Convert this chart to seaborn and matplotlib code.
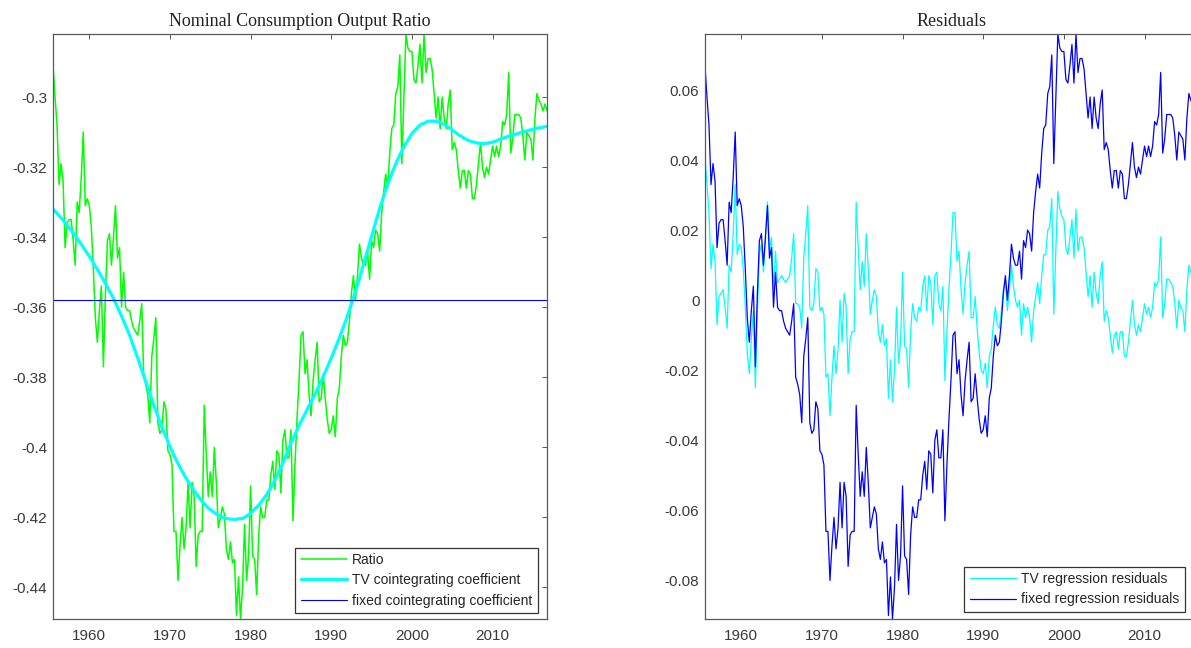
import numpy as np
import matplotlib
matplotlib.use("Agg")
import matplotlib.pyplot as plt
from matplotlib.ticker import FuncFormatter
import seaborn as sns

# Quarterly sample, 1955Q3 .. 2016Q4 (x in decimal years)
quarters = np.arange(1955.5, 2016.76, 0.25)

# Nominal consumption / output ratio (log), one row per year
ratio = [
    -0.291, -0.300,
    -0.308, -0.325, -0.319, -0.324,
    -0.343, -0.336, -0.335, -0.335,
    -0.341, -0.348, -0.330, -0.333,
    -0.323, -0.310, -0.331, -0.329,
    -0.331, -0.337, -0.349, -0.363,  # 1960
    -0.370, -0.361, -0.354, -0.377,
    -0.356, -0.341, -0.339, -0.348,
    -0.340, -0.331, -0.346, -0.343,
    -0.360, -0.350, -0.360, -0.361,
    -0.361, -0.364, -0.366, -0.367,  # 1965
    -0.368, -0.364, -0.359, -0.380,
    -0.382, -0.385, -0.393, -0.374,
    -0.369, -0.363, -0.393, -0.396,
    -0.395, -0.387, -0.389, -0.401,
    -0.402, -0.405, -0.424, -0.424,  # 1970
    -0.438, -0.428, -0.420, -0.429,
    -0.423, -0.410, -0.423, -0.410,
    -0.414, -0.434, -0.425, -0.424,
    -0.424, -0.388, -0.402, -0.414,
    -0.407, -0.414, -0.400, -0.410,  # 1975
    -0.423, -0.420, -0.417, -0.419,
    -0.429, -0.432, -0.427, -0.433,
    -0.432, -0.448, -0.437, -0.449,
    -0.440, -0.422, -0.438, -0.431,
    -0.411, -0.431, -0.432, -0.442,  # 1980
    -0.425, -0.417, -0.420, -0.420,
    -0.415, -0.415, -0.408, -0.404,
    -0.412, -0.401, -0.402, -0.413,
    -0.398, -0.395, -0.403, -0.403,
    -0.395, -0.421, -0.405, -0.392,  # 1985
    -0.381, -0.368, -0.367, -0.379,
    -0.375, -0.385, -0.391, -0.381,
    -0.375, -0.370, -0.387, -0.386,
    -0.379, -0.386, -0.392, -0.396,
    -0.395, -0.391, -0.397, -0.386,  # 1990
    -0.383, -0.374, -0.368, -0.371,
    -0.370, -0.364, -0.356, -0.351,
    -0.358, -0.351, -0.342, -0.346,
    -0.348, -0.348, -0.344, -0.352,
    -0.341, -0.343, -0.338, -0.339,  # 1995
    -0.344, -0.333, -0.327, -0.322,
    -0.326, -0.316, -0.309, -0.308,
    -0.299, -0.297, -0.288, -0.319,
    -0.300, -0.282, -0.286, -0.287,
    -0.287, -0.295, -0.296, -0.291,  # 2000
    -0.285, -0.296, -0.282, -0.293,
    -0.289, -0.289, -0.292, -0.299,
    -0.306, -0.300, -0.309, -0.300,
    -0.306, -0.309, -0.302, -0.298,
    -0.315, -0.313, -0.315, -0.321,  # 2005
    -0.326, -0.321, -0.321, -0.326,
    -0.321, -0.322, -0.329, -0.329,
    -0.325, -0.319, -0.313, -0.320,
    -0.323, -0.320, -0.322, -0.318,
    -0.314, -0.317, -0.314, -0.317,  # 2010
    -0.314, -0.307, -0.308, -0.305,
    -0.293, -0.316, -0.312, -0.305,
    -0.305, -0.305, -0.306, -0.311,
    -0.318, -0.310, -0.311, -0.312,
    -0.318, -0.306, -0.299, -0.301,  # 2015
    -0.302, -0.304, -0.302, -0.304,
]

# time-varying cointegrating coefficient
tv_coef = [
    -0.3320, -0.3326,
    -0.3332, -0.3339, -0.3345, -0.3352,
    -0.3358, -0.3366, -0.3373, -0.3381,
    -0.3388, -0.3396, -0.3404, -0.3412,
    -0.3420, -0.3429, -0.3438, -0.3446,
    -0.3455, -0.3464, -0.3474, -0.3483,  # 1960
    -0.3492, -0.3502, -0.3512, -0.3522,
    -0.3532, -0.3543, -0.3554, -0.3564,
    -0.3575, -0.3588, -0.3600, -0.3613,
    -0.3625, -0.3639, -0.3653, -0.3666,
    -0.3680, -0.3696, -0.3713, -0.3729,  # 1965
    -0.3745, -0.3762, -0.3779, -0.3795,
    -0.3812, -0.3829, -0.3846, -0.3863,
    -0.3880, -0.3896, -0.3911, -0.3927,
    -0.3942, -0.3956, -0.3970, -0.3984,
    -0.3998, -0.4010, -0.4023, -0.4035,  # 1970
    -0.4047, -0.4057, -0.4068, -0.4078,
    -0.4088, -0.4097, -0.4106, -0.4115,
    -0.4124, -0.4132, -0.4140, -0.4147,
    -0.4155, -0.4161, -0.4167, -0.4174,
    -0.4178, -0.4182, -0.4186, -0.4190,  # 1975
    -0.4194, -0.4196, -0.4199, -0.4201,
    -0.4203, -0.4204, -0.4205, -0.4205,
    -0.4206, -0.4205, -0.4204, -0.4204,
    -0.4203, -0.4200, -0.4196, -0.4193,
    -0.4187, -0.4182, -0.4176, -0.4171,  # 1980
    -0.4165, -0.4158, -0.4150, -0.4143,
    -0.4135, -0.4125, -0.4115, -0.4105,
    -0.4095, -0.4083, -0.4070, -0.4058,
    -0.4045, -0.4031, -0.4017, -0.4002,
    -0.3988, -0.3976, -0.3963, -0.3951,  # 1985
    -0.3938, -0.3927, -0.3915, -0.3904,
    -0.3892, -0.3881, -0.3870, -0.3859,
    -0.3848, -0.3836, -0.3823, -0.3811,
    -0.3798, -0.3785, -0.3772, -0.3758,
    -0.3745, -0.3731, -0.3717, -0.3702,  # 1990
    -0.3688, -0.3672, -0.3657, -0.3641,
    -0.3625, -0.3608, -0.3590, -0.3573,
    -0.3555, -0.3536, -0.3516, -0.3497,
    -0.3478, -0.3458, -0.3438, -0.3418,
    -0.3398, -0.3378, -0.3358, -0.3338,  # 1995
    -0.3318, -0.3301, -0.3283, -0.3266,
    -0.3248, -0.3234, -0.3219, -0.3205,
    -0.3190, -0.3178, -0.3166, -0.3154,
    -0.3142, -0.3133, -0.3123, -0.3114,
    -0.3104, -0.3098, -0.3092, -0.3086,  # 2000
    -0.3080, -0.3077, -0.3075, -0.3072,
    -0.3069, -0.3069, -0.3069, -0.3069,
    -0.3069, -0.3071, -0.3074, -0.3076,
    -0.3078, -0.3082, -0.3086, -0.3090,
    -0.3094, -0.3098, -0.3103, -0.3107,  # 2005
    -0.3111, -0.3114, -0.3118, -0.3121,
    -0.3124, -0.3126, -0.3128, -0.3129,
    -0.3131, -0.3132, -0.3132, -0.3133,
    -0.3133, -0.3132, -0.3131, -0.3130,
    -0.3129, -0.3127, -0.3125, -0.3122,  # 2010
    -0.3120, -0.3118, -0.3116, -0.3114,
    -0.3112, -0.3110, -0.3109, -0.3107,
    -0.3105, -0.3103, -0.3102, -0.3100,
    -0.3098, -0.3097, -0.3095, -0.3094,
    -0.3092, -0.3091, -0.3089, -0.3088,  # 2015
    -0.3087, -0.3086, -0.3085, -0.3084,
]

fixed_coef = -0.358

# residuals of the two regressions
tv_resid = [
    0.041, 0.033,
    0.025, 0.009, 0.016, 0.011,
    -0.007, 0.001, 0.002, 0.003,
    -0.002, -0.008, 0.010, 0.008,
    0.019, 0.033, 0.013, 0.016,
    0.015, 0.009, -0.002, -0.015,  # 1960
    -0.021, -0.011, -0.003, -0.025,
    -0.003, 0.013, 0.016, 0.008,
    0.018, 0.028, 0.014, 0.018,
    0.003, 0.014, 0.005, 0.006,
    0.007, 0.006, 0.005, 0.006,  # 1965
    0.007, 0.012, 0.019, -0.001,
    -0.001, -0.002, -0.008, 0.012,
    0.019, 0.027, -0.002, -0.003,
    -0.001, 0.009, 0.008, -0.003,
    -0.002, -0.004, -0.022, -0.021,  # 1970
    -0.033, -0.022, -0.013, -0.021,
    -0.014, 0.000, -0.012, 0.002,
    -0.002, -0.021, -0.011, -0.009,
    -0.009, 0.028, 0.015, 0.003,
    0.011, 0.004, 0.019, 0.009,  # 1975
    -0.004, 0.000, 0.003, 0.001,
    -0.009, -0.012, -0.007, -0.013,
    -0.011, -0.028, -0.017, -0.029,
    -0.020, -0.002, -0.018, -0.012,
    0.008, -0.013, -0.014, -0.025,  # 1980
    -0.009, -0.001, -0.005, -0.006,
    -0.002, -0.003, 0.004, 0.007,
    -0.003, 0.007, 0.005, -0.007,
    0.007, 0.008, -0.001, -0.003,
    0.004, -0.023, -0.009, 0.003,  # 1985
    0.013, 0.025, 0.025, 0.011,
    0.014, 0.003, -0.004, 0.005,
    0.010, 0.014, -0.005, -0.005,
    0.001, -0.008, -0.015, -0.020,
    -0.021, -0.018, -0.025, -0.016,  # 1990
    -0.014, -0.007, -0.002, -0.007,
    -0.008, -0.003, 0.003, 0.006,
    -0.003, 0.003, 0.010, 0.004,
    0.000, -0.002, 0.000, -0.010,
    -0.001, -0.005, -0.002, -0.005,  # 1995
    -0.012, -0.003, 0.001, 0.005,
    -0.001, 0.007, 0.013, 0.013,
    0.020, 0.021, 0.029, -0.004,
    0.014, 0.031, 0.026, 0.024,
    0.023, 0.015, 0.013, 0.018,  # 2000
    0.023, 0.012, 0.026, 0.014,
    0.018, 0.018, 0.015, 0.008,
    0.001, 0.007, -0.002, 0.008,
    0.002, -0.001, 0.007, 0.011,
    -0.006, -0.003, -0.005, -0.010,  # 2005
    -0.015, -0.010, -0.009, -0.014,
    -0.009, -0.009, -0.016, -0.016,
    -0.012, -0.006, 0.000, -0.007,
    -0.010, -0.007, -0.009, -0.005,
    -0.001, -0.004, -0.002, -0.005,  # 2010
    -0.002, 0.005, 0.004, 0.006,
    0.018, -0.005, -0.001, 0.006,
    0.006, 0.005, 0.004, -0.001,
    -0.008, 0.000, -0.002, -0.003,
    -0.009, 0.003, 0.010, 0.008,  # 2015
    0.007, 0.005, 0.007, 0.004,
]

fixed_resid = [
    0.067, 0.058,
    0.050, 0.033, 0.039, 0.034,
    0.015, 0.022, 0.023, 0.023,
    0.017, 0.010, 0.028, 0.025,
    0.035, 0.048, 0.027, 0.029,
    0.027, 0.021, 0.009, -0.005,  # 1960
    -0.012, -0.003, 0.004, -0.019,
    0.002, 0.017, 0.019, 0.010,
    0.018, 0.027, 0.012, 0.015,
    -0.002, 0.008, -0.002, -0.003,
    -0.003, -0.006, -0.008, -0.009,  # 1965
    -0.010, -0.006, -0.001, -0.022,
    -0.024, -0.027, -0.035, -0.016,
    -0.011, -0.005, -0.035, -0.038,
    -0.037, -0.029, -0.031, -0.043,
    -0.044, -0.047, -0.066, -0.066,  # 1970
    -0.080, -0.070, -0.062, -0.071,
    -0.065, -0.052, -0.065, -0.052,
    -0.056, -0.076, -0.067, -0.066,
    -0.066, -0.030, -0.044, -0.056,
    -0.049, -0.056, -0.042, -0.052,  # 1975
    -0.065, -0.062, -0.059, -0.061,
    -0.071, -0.074, -0.069, -0.075,
    -0.074, -0.090, -0.079, -0.091,
    -0.082, -0.064, -0.080, -0.073,
    -0.053, -0.073, -0.074, -0.084,  # 1980
    -0.067, -0.059, -0.062, -0.062,
    -0.057, -0.057, -0.050, -0.046,
    -0.054, -0.043, -0.044, -0.055,
    -0.040, -0.037, -0.045, -0.045,
    -0.037, -0.063, -0.047, -0.034,  # 1985
    -0.023, -0.010, -0.009, -0.021,
    -0.017, -0.027, -0.033, -0.023,
    -0.017, -0.012, -0.029, -0.028,
    -0.021, -0.028, -0.034, -0.038,
    -0.037, -0.033, -0.039, -0.028,  # 1990
    -0.025, -0.016, -0.010, -0.013,
    -0.012, -0.006, 0.002, 0.007,
    0.000, 0.007, 0.016, 0.012,
    0.010, 0.010, 0.014, 0.006,
    0.017, 0.015, 0.020, 0.019,  # 1995
    0.014, 0.025, 0.031, 0.036,
    0.032, 0.042, 0.049, 0.050,
    0.059, 0.061, 0.070, 0.039,
    0.058, 0.076, 0.072, 0.071,
    0.071, 0.063, 0.062, 0.067,  # 2000
    0.073, 0.062, 0.076, 0.065,
    0.069, 0.069, 0.066, 0.059,
    0.052, 0.058, 0.049, 0.058,
    0.052, 0.049, 0.056, 0.060,
    0.043, 0.045, 0.043, 0.037,  # 2005
    0.032, 0.037, 0.037, 0.032,
    0.037, 0.036, 0.029, 0.029,
    0.033, 0.039, 0.045, 0.038,
    0.035, 0.038, 0.036, 0.040,
    0.044, 0.041, 0.044, 0.041,  # 2010
    0.044, 0.051, 0.050, 0.053,
    0.065, 0.042, 0.046, 0.053,
    0.053, 0.053, 0.052, 0.047,
    0.040, 0.048, 0.047, 0.046,
    0.040, 0.052, 0.059, 0.057,  # 2015
    0.056, 0.054, 0.056, 0.054,
]

year_ticks = [1960, 1970, 1980, 1990, 2000, 2010]
left_yticks = [-0.44, -0.42, -0.40, -0.38, -0.36, -0.34, -0.32, -0.30]
right_yticks = [-0.08, -0.06, -0.04, -0.02, 0.0, 0.02, 0.04, 0.06]

sns.set_style("white")
plt.rcParams["font.family"] = ["Liberation Sans", "DejaVu Sans"]

GREEN, CYAN, BLUE = "#00ff00", "#00ffff", "#0000ff"
SPINE = "#5a5a5a"


def matlab_fmt(v, pos):
    v = round(v, 4)
    if v == 0:
        return "0"
    return f"{v:g}"


def style_axes(ax, yticks):
    ax.set_xlim(quarters[0], quarters[-1])
    ax.set_xticks(year_ticks)
    ax.set_yticks(yticks)
    ax.yaxis.set_major_formatter(FuncFormatter(matlab_fmt))
    ax.tick_params(direction="in", length=3.5, width=0.7, color=SPINE,
                   top=True, right=True, labelsize=11, labelcolor="#3a3a3a")
    ax.tick_params(axis="x", pad=7)
    ax.tick_params(axis="y", pad=4)
    for sp in ax.spines.values():
        sp.set_visible(True)
        sp.set_color(SPINE)
        sp.set_linewidth(0.9)
    ax.set_xlabel("")
    ax.set_ylabel("")


fig = plt.figure(figsize=(11.91, 6.48), dpi=100)
ax1 = fig.add_axes([0.0445, 0.0448, 0.4148, 0.9028])
ax2 = fig.add_axes([0.5919, 0.0448, 0.4148, 0.9028])

# left: ratio with cointegrating coefficients
sns.lineplot(x=quarters, y=ratio, ax=ax1, color=GREEN, linewidth=1.1, label="Ratio")
sns.lineplot(x=quarters, y=tv_coef, ax=ax1, color=CYAN, linewidth=2.3,
             label="TV cointegrating coefficient")
ax1.axhline(fixed_coef, color=BLUE, linewidth=0.8, label="fixed cointegrating coefficient")
ax1.set_ylim(min(ratio), max(ratio))
style_axes(ax1, left_yticks)
ax1.set_title("Nominal Consumption Output Ratio", family="Liberation Serif",
              fontsize=13, color="#222222", pad=6)
leg1 = ax1.legend(loc="lower right", bbox_to_anchor=(0.982, 0.010), borderaxespad=0,
                  fontsize=10, handlelength=3.3, handletextpad=0.4, labelspacing=0.45,
                  borderpad=0.4, fancybox=False, framealpha=1, edgecolor="#333333")
leg1.get_frame().set_linewidth(0.9)

# right: residuals
sns.lineplot(x=quarters, y=tv_resid, ax=ax2, color=CYAN, linewidth=0.9,
             label="TV regression residuals")
sns.lineplot(x=quarters, y=fixed_resid, ax=ax2, color=BLUE, linewidth=0.9,
             label="fixed regression residuals")
ax2.set_ylim(min(fixed_resid), max(fixed_resid))
style_axes(ax2, right_yticks)
ax2.set_title("Residuals", family="Liberation Serif", fontsize=13, color="#222222", pad=6)
leg2 = ax2.legend(loc="lower right", bbox_to_anchor=(0.972, 0.012), borderaxespad=0,
                  fontsize=10, handlelength=3.3, handletextpad=0.4, labelspacing=0.45,
                  borderpad=0.4, fancybox=False, framealpha=1, edgecolor="#333333")
leg2.get_frame().set_linewidth(0.9)

fig.savefig("out.png", dpi=100)
